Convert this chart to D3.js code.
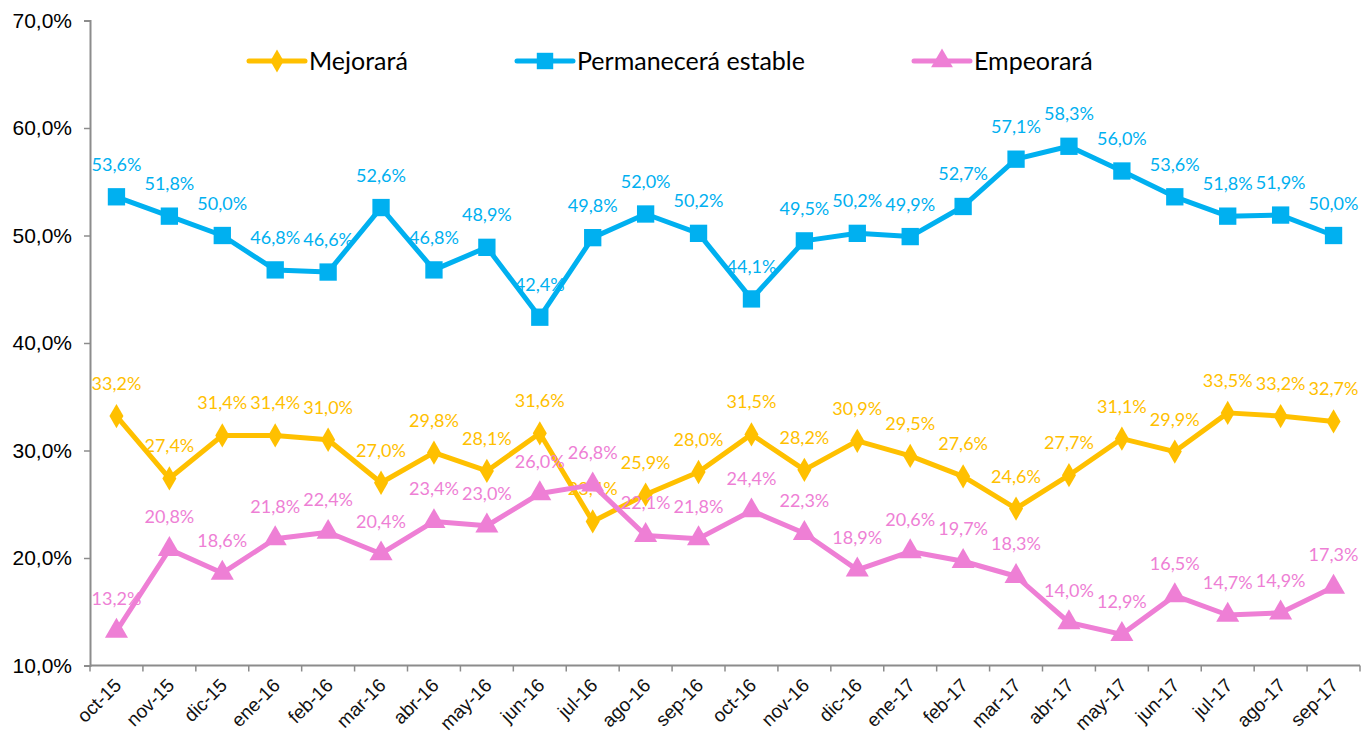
<!DOCTYPE html>
<html>
<head>
<meta charset="utf-8">
<script src="https://cdn.jsdelivr.net/npm/d3@7"></script>
<style>
  body { margin: 0; background: #fff; }
  svg { display: block; }
</style>
</head>
<body>
<div id="chart"></div>
<script>
const months = ["oct-15","nov-15","dic-15","ene-16","feb-16","mar-16","abr-16","may-16","jun-16","jul-16","ago-16","sep-16",
                "oct-16","nov-16","dic-16","ene-17","feb-17","mar-17","abr-17","may-17","jun-17","jul-17","ago-17","sep-17"];
const mejorara = [33.2,27.4,31.4,31.4,31.0,27.0,29.8,28.1,31.6,23.4,25.9,28.0,31.5,28.2,30.9,29.5,27.6,24.6,27.7,31.1,29.9,33.5,33.2,32.7];
const estable  = [53.6,51.8,50.0,46.8,46.6,52.6,46.8,48.9,42.4,49.8,52.0,50.2,44.1,49.5,50.2,49.9,52.7,57.1,58.3,56.0,53.6,51.8,51.9,50.0];
const empeorara = [13.2,20.8,18.6,21.8,22.4,20.4,23.4,23.0,26.0,26.8,22.1,21.8,24.4,22.3,18.9,20.6,19.7,18.3,14.0,12.9,16.5,14.7,14.9,17.3];
const yTicks = [10,20,30,40,50,60,70];

const series = [
  { name: "Mejorará", values: mejorara, color: "#FFC000", symbol: d3.symbolDiamond, size: 170, lx: 249 },
  { name: "Permanecerá estable", values: estable, color: "#00B0F0", symbol: d3.symbolSquare, size: 300, lx: 517 },
  { name: "Empeorará", values: empeorara, color: "#EE7FD5", symbol: d3.symbolTriangle, size: 230, lx: 914 }
];

const W = 1361, H = 737;
const svg = d3.select("#chart").append("svg").attr("width", W).attr("height", H);

const x = d3.scaleBand().domain(months).range([90, 1360]).padding(0);
const y = d3.scaleLinear().domain([10, 70]).range([665.5, 20.5]);
const cx = d => x(d) + x.bandwidth() / 2;
const fmt = v => v.toFixed(1).replace(".", ",") + "%";

// y axis
const yAxis = svg.append("g")
    .attr("transform", "translate(90,0)")
    .call(d3.axisLeft(y).tickValues(yTicks).tickSize(6).tickPadding(12).tickFormat(d => d.toFixed(1).replace(".", ",") + "%"));
yAxis.select(".domain").attr("stroke", "#8c8c8c").attr("stroke-width", 2);
yAxis.selectAll(".tick line").attr("stroke", "#8c8c8c").attr("stroke-width", 1.5);
yAxis.selectAll("text").attr("font-family", "Liberation Sans, Arial, sans-serif").attr("font-size", 21).attr("fill", "#000");

// x axis with ticks at band boundaries
const xAxis = svg.append("g").attr("transform", "translate(0,665.5)");
xAxis.append("line").attr("x1", 90).attr("x2", 1360).attr("stroke", "#8c8c8c").attr("stroke-width", 2);
xAxis.selectAll(".tk").data(months.concat(["end"])).join("line")
    .attr("x1", (d, i) => i < months.length ? x(d) : x.range()[1])
    .attr("x2", (d, i) => i < months.length ? x(d) : x.range()[1])
    .attr("y1", 0).attr("y2", 6).attr("stroke", "#8c8c8c").attr("stroke-width", 1.5);
xAxis.selectAll(".lbl").data(months).join("text")
    .attr("transform", d => `translate(${cx(d) + 6},${21}) rotate(-45)`)
    .attr("text-anchor", "end")
    .attr("font-family", "Liberation Sans, Arial, sans-serif")
    .attr("font-size", 19)
    .attr("fill", "#111")
    .text(d => d);

const line = d3.line().x((v, i) => cx(months[i])).y(v => y(v));

series.forEach(s => {
  const g = svg.append("g");
  g.append("path").datum(s.values)
      .attr("d", line).attr("fill", "none")
      .attr("stroke", s.color).attr("stroke-width", 5).attr("stroke-linejoin", "round");
  g.selectAll(".m").data(s.values).join("path")
      .attr("transform", (v, i) => `translate(${cx(months[i])},${y(v)})`)
      .attr("d", d3.symbol().type(s.symbol).size(s.size))
      .attr("fill", s.color);
  g.selectAll(".l").data(s.values).join("text")
      .attr("x", (v, i) => cx(months[i]))
      .attr("y", v => y(v) - 26)
      .attr("text-anchor", "middle")
      .attr("font-family", "Lato, sans-serif")
      .attr("font-size", 18)
      .attr("fill", s.color)
      .text(fmt);
});

// legend
const leg = svg.append("g").attr("transform", "translate(0,61)");
series.forEach(s => {
  leg.append("line").attr("x1", s.lx).attr("x2", s.lx + 56)
      .attr("stroke", s.color).attr("stroke-width", 5).attr("stroke-linecap", "round");
  leg.append("path").attr("transform", `translate(${s.lx + 28},0)`)
      .attr("d", d3.symbol().type(s.symbol).size(s.size * 0.9)).attr("fill", s.color);
  leg.append("text").attr("x", s.lx + 60).attr("y", 9)
      .attr("font-family", "Lato, sans-serif").attr("font-size", 25).attr("fill", "#000")
      .text(s.name);
});
</script>
</body>
</html>
